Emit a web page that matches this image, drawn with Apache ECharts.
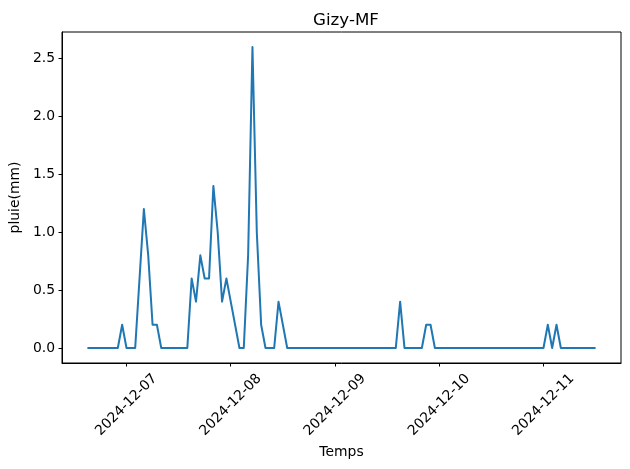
<!DOCTYPE html>
<html>
<head>
<meta charset="utf-8">
<script src="https://cdn.jsdelivr.net/npm/echarts@6/dist/echarts.min.js"></script>
<style>
  html, body { margin: 0; padding: 0; background: #fff; }
  #chart { width: 630px; height: 469px; }
</style>
</head>
<body>
<div id="chart"></div>
<script>
// hourly rain readings, first one at 2024-12-06 15:00
var startTime = new Date(2024, 11, 6, 15, 0, 0).getTime()
var rain = [
  0, 0, 0, 0, 0, 0, 0, 0, 0.2,
  // 12-07
  0, 0, 0, 0.6, 1.2, 0.8, 0.2, 0.2, 0, 0, 0, 0, 0, 0, 0, 0.6, 0.4, 0.8, 0.6, 0.6, 1.4, 1.0, 0.4, 0.6,
  // 12-08
  0.4, 0.2, 0, 0, 0.8, 2.6, 1.0, 0.2, 0, 0, 0, 0.4, 0.2, 0, 0, 0, 0, 0, 0, 0, 0, 0, 0, 0,
  // 12-09
  0, 0, 0, 0, 0, 0, 0, 0, 0, 0, 0, 0, 0, 0, 0, 0.4, 0, 0, 0, 0, 0, 0.2, 0.2, 0,
  // 12-10
  0, 0, 0, 0, 0, 0, 0, 0, 0, 0, 0, 0, 0, 0, 0, 0, 0, 0, 0, 0, 0, 0, 0, 0,
  // 12-11
  0, 0.2, 0, 0.2, 0, 0, 0, 0, 0, 0, 0, 0, 0
]
var xTickLabels = ['2024-12-07', '2024-12-08', '2024-12-09', '2024-12-10', '2024-12-11']
var yTicks = [0, 0.5, 1.0, 1.5, 2.0, 2.5]

var HOUR = 3600 * 1000
var points = rain.map(function (v, i) { return [startTime + i * HOUR, v] })
var xTicks = xTickLabels.map(function (s) {
  var p = s.split('-')
  return new Date(+p[0], +p[1] - 1, +p[2]).getTime()
})

// matplotlib style 5% margins
var tMin = points[0][0], tMax = points[points.length - 1][0]
var tPad = (tMax - tMin) * 0.05
var vMax = Math.max.apply(null, rain)
var vPad = vMax * 0.05

var chart = echarts.init(document.getElementById('chart'))
var font = 'DejaVu Sans'

chart.setOption({
  animation: false,
  backgroundColor: '#fff',
  title: {
    text: 'Gizy-MF',
    left: 341,
    textAlign: 'center',
    top: 7,
    textStyle: { fontFamily: font, fontSize: 16.7, fontWeight: 'normal', color: '#000' }
  },
  grid: {
    left: 62, right: 9, top: 32, bottom: 106,
    show: true, borderColor: '#000', borderWidth: 1,
    containLabel: false
  },
  xAxis: {
    type: 'value',
    min: tMin - tPad,
    max: tMax + tPad,
    name: 'Temps',
    nameLocation: 'middle',
    nameGap: 82,
    nameTextStyle: { fontFamily: font, fontSize: 13.9, color: '#000' },
    axisLine: { show: true, onZero: false, lineStyle: { color: '#000', width: 1 } },
    axisTick: { show: true, length: 3.5, customValues: xTicks, lineStyle: { color: '#000', width: 1 } },
    axisLabel: {
      customValues: xTicks,
      rotate: 45,
      align: 'center',
      verticalAlign: 'middle',
      margin: 42,
      fontFamily: font, fontSize: 13.9, color: '#000',
      formatter: function (v) {
        var i = xTicks.indexOf(v)
        return i >= 0 ? xTickLabels[i] : ''
      }
    },
    splitLine: { show: false }
  },
  yAxis: {
    type: 'value',
    min: -vPad,
    max: vMax + vPad,
    name: 'pluie(mm)',
    nameLocation: 'middle',
    nameGap: 37,
    nameTextStyle: { fontFamily: font, fontSize: 13.9, color: '#000' },
    axisLine: { show: true, lineStyle: { color: '#000', width: 1 } },
    axisTick: { show: true, length: 3.5, customValues: yTicks, lineStyle: { color: '#000', width: 1 } },
    axisLabel: {
      customValues: yTicks,
      margin: 7,
      fontFamily: font, fontSize: 13.9, color: '#000',
      formatter: function (v) { return v.toFixed(1) }
    },
    splitLine: { show: false }
  },
  series: [{
    type: 'line',
    data: points,
    showSymbol: false,
    symbol: 'none',
    lineStyle: { color: '#1f77b4', width: 2, join: 'round' }
  }]
})
</script>
</body>
</html>
